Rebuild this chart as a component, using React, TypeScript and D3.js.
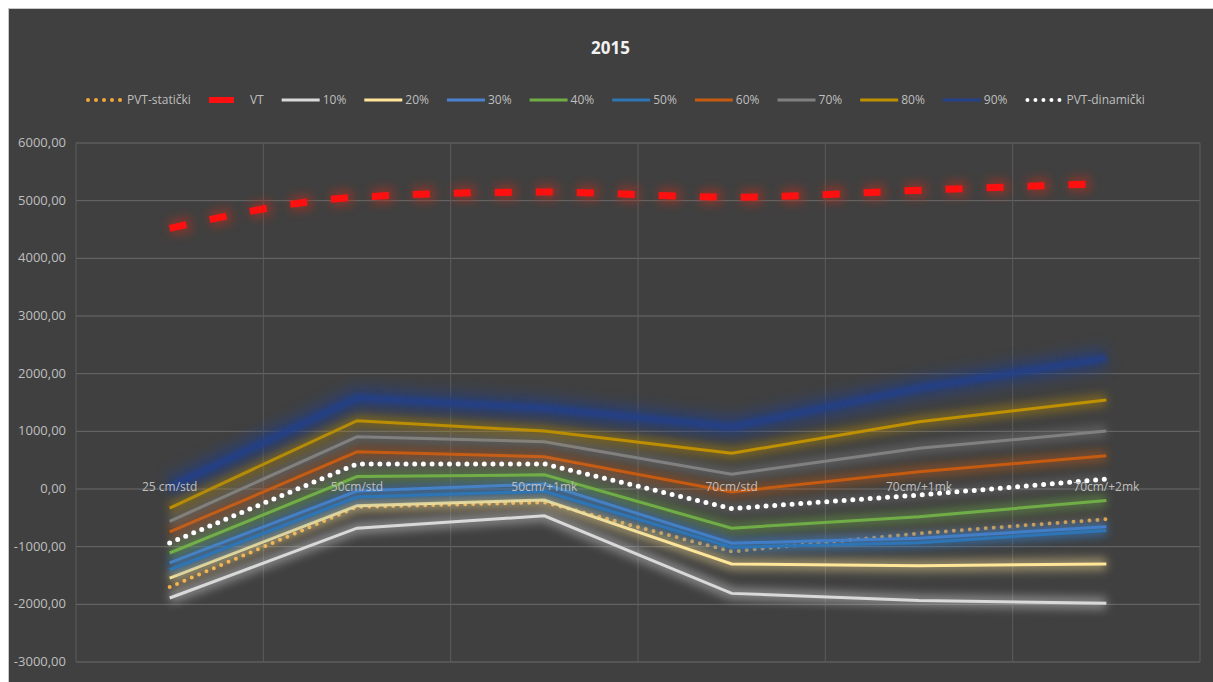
import * as d3 from "d3";

const categories = ["25 cm/std", "50cm/std", "50cm/+1mk", "70cm/std", "70cm/+1mk", "70cm/+2mk"];
const seriesNames = ["PVT-statički", "VT", "10%", "20%", "30%", "40%", "50%", "60%", "70%", "80%", "90%", "PVT-dinamički"];

const pvtStaticki = [-1700, -310, -230, -1085, -770, -525];
const vt = [4520, 5060, 5150, 5060, 5180, 5300];
const p10 = [-1890, -680, -465, -1810, -1935, -1980];
const p20 = [-1545, -290, -190, -1300, -1330, -1300];
const p30 = [-1280, -35, 85, -940, -855, -655];
const p40 = [-1110, 215, 245, -680, -480, -200];
const p50 = [-1400, -140, -40, -1010, -930, -720];
const p60 = [-745, 645, 560, -50, 300, 575];
const p70 = [-560, 905, 820, 255, 705, 1005];
const p80 = [-330, 1185, 1005, 620, 1165, 1545];
const p90 = [30, 1580, 1400, 1075, 1750, 2270];
const pvtDinamicki = [-935, 435, 435, -340, -105, 170];

const seriesValues = [pvtStaticki, vt, p10, p20, p30, p40, p50, p60, p70, p80, p90, pvtDinamicki];
const seriesColors = ["#f5a93a", "#ff1010", "#d9d9d9", "#ffe699", "#4a82d0", "#70ad47", "#2e75b6", "#c55a11", "#808080", "#bf9000", "#24418a", "#ffffff"];

const FONT = "'Open Sans', 'DejaVu Sans', sans-serif";

function measure(text: string, size: number) {
	const ctx = document.createElement("canvas").getContext("2d");
	if (!ctx) return text.length * size * 0.55;
	ctx.font = size + "px 'Open Sans'";
	return ctx.measureText(text).width;
}

function App() {
	const width = 1205;
	const height = 674;
	const x = d3.scalePoint<string>().domain(categories).range([68, 1192]).padding(0.5);
	const y = d3.scaleLinear().domain([-3000, 6000]).range([654, 135]);
	const step = x.step();
	const vLines = categories.map((c) => (x(c) as number) - step / 2).concat([(x(categories[5]) as number) + step / 2]);

	const line = d3
		.line<number>()
		.x((_, i) => x(categories[i]) as number)
		.y((d) => y(d));
	const smooth = d3
		.line<number>()
		.x((_, i) => x(categories[i]) as number)
		.y((d) => y(d))
		.curve(d3.curveMonotoneX);

	const kind = (name: string) => (name.startsWith("PVT") ? "dots" : name === "VT" ? "dash" : "line");

	// legend layout
	let lx = 78;
	const legend = seriesNames.map((name, i) => {
		const item = { name, color: seriesColors[i], x: lx };
		lx += 41 + measure(name, 12) + 18;
		return item;
	});

	return (
		<div style={{ position: "absolute", left: 8, top: 8 }}>
			<svg width={width} height={height} style={{ display: "block", background: "#404040" }}>
				<defs>
					<filter id="glow" filterUnits="userSpaceOnUse" x={0} y={0} width={width} height={height}>
						<feGaussianBlur stdDeviation={5} />
					</filter>
					<filter id="glowBig" filterUnits="userSpaceOnUse" x={0} y={0} width={width} height={height}>
						<feGaussianBlur stdDeviation={7} />
					</filter>
					<filter id="soft" filterUnits="userSpaceOnUse" x={0} y={0} width={width} height={height}>
						<feGaussianBlur stdDeviation={2} />
					</filter>
				</defs>
				<rect x={0.5} y={0.5} width={width + 10} height={height + 10} fill="#404040" stroke="#c8c8c8" />

				<text x={width / 2} y={46} textAnchor="middle" fill="#f2f2f2" fontFamily={FONT} fontWeight="bold" fontSize={17}>
					2015
				</text>

				{/* legend */}
				{legend.map((d) => {
					const k = kind(d.name);
					return (
						<g key={d.name}>
							{k === "dots" && (
								<line x1={d.x + 2} x2={d.x + 37} y1={92} y2={92} stroke={d.color} strokeWidth={4} strokeLinecap="round" strokeDasharray="0 8" />
							)}
							{k === "dash" && (
								<line x1={d.x} x2={d.x + 38} y1={92} y2={92} stroke={d.color} strokeWidth={6} strokeDasharray="25 13" />
							)}
							{k === "line" && <line x1={d.x} x2={d.x + 38} y1={92} y2={92} stroke={d.color} strokeWidth={3} />}
							<text x={d.x + 41} y={96} fill="#bfbfbf" fontFamily={FONT} fontSize={12}>
								{d.name}
							</text>
						</g>
					);
				})}

				{/* grid */}
				{y.ticks(9).map((t) => (
					<g key={t}>
						<line x1={68} x2={1192} y1={y(t)} y2={y(t)} stroke="#6a6a6a" strokeWidth={1} />
						<text x={58} y={y(t) + 4} textAnchor="end" fill="#bfbfbf" fontFamily={FONT} fontSize={13}>
							{t.toFixed(2).replace(".", ",")}
						</text>
					</g>
				))}
				{vLines.map((v, i) => (
					<line key={i} x1={v} x2={v} y1={y(6000)} y2={y(-3000)} stroke="#5c5c5c" strokeWidth={1} />
				))}

				{/* series */}
				{seriesValues.map((vals, i) => {
					const name = seriesNames[i];
					const color = seriesColors[i];
					const k = kind(name);
					const d = (k === "dash" ? smooth(vals) : line(vals)) || "";
					if (name === "90%") {
						return (
							<g key={name}>
								<path d={d} fill="none" stroke={color} strokeWidth={22} opacity={0.6} filter="url(#glowBig)" />
								<path d={d} fill="none" stroke={color} strokeWidth={7} opacity={0.9} filter="url(#soft)" />
							</g>
						);
					}
					return (
						<g key={name}>
							{k === "line" && (
								<path d={d} fill="none" stroke={color} strokeWidth={12} opacity={0.45} filter="url(#glow)" />
							)}
							{k === "dash" && (
								<path d={d} fill="none" stroke="#a83020" strokeWidth={16} opacity={0.6} strokeDasharray="22 19" filter="url(#glow)" />
							)}
							{k === "dots" && (
								<path d={d} fill="none" stroke={color} strokeWidth={8} opacity={0.15} filter="url(#glow)" />
							)}
							{k === "line" && <path d={d} fill="none" stroke={color} strokeWidth={3} />}
							{k === "dash" && <path d={d} fill="none" stroke={color} strokeWidth={7} strokeDasharray="17 24" />}
							{k === "dots" && (
								<path
									d={d}
									fill="none"
									stroke={color}
									strokeWidth={name === "PVT-dinamički" ? 5 : 4}
									strokeLinecap="round"
									strokeDasharray={name === "PVT-dinamički" ? "0 8.7" : "0 8"}
								/>
							)}
						</g>
					);
				})}

				{/* category labels at the zero line */}
				{categories.map((c) => (
					<text key={c} x={x(c)} y={y(0) + 2} textAnchor="middle" fill="#bfbfbf" fontFamily={FONT} fontSize={12}>
						{c}
					</text>
				))}
			</svg>
		</div>
	);
}

export default App;
